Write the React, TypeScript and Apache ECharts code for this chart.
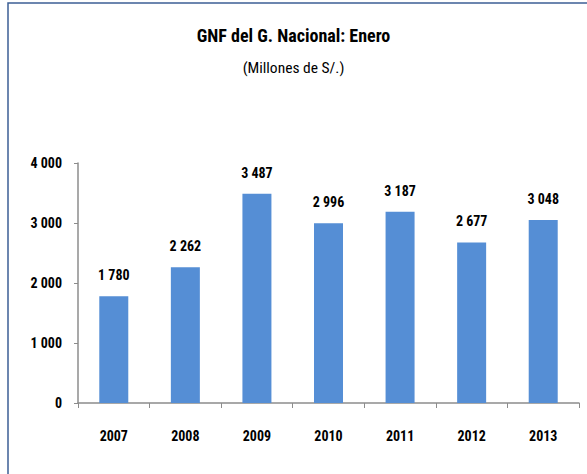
import React, { useEffect, useRef } from "react";
import * as echarts from "echarts";

const years = ["2007", "2008", "2009", "2010", "2011", "2012", "2013"];
const values = [1780, 2262, 3487, 2996, 3187, 2677, 3048];
const titleText = "GNF del G. Nacional: Enero";
const subtitleText = "(Millones de S/.)";

const FONT = "'Liberation Sans Narrow', 'Arial Narrow', 'Roboto Condensed', Roboto, sans-serif";

const fmt = (v: number) => {
  const s = String(Math.round(v));
  return s.replace(/\B(?=(\d{3})+(?!\d))/g, " ");
};

export default function App() {
  const ref = useRef<HTMLDivElement>(null);
  useEffect(() => {
    if (!ref.current) return;
    const chart = echarts.init(ref.current, undefined, { renderer: "svg" });
    chart.setOption({
      animation: false,
      backgroundColor: "#ffffff",
      title: [
        {
          text: titleText,
          left: "center",
          top: 21,
          textStyle: { fontFamily: FONT, fontSize: 18, fontWeight: "bold", color: "#000" },
        },
        {
          text: subtitleText,
          left: "center",
          top: 55,
          textStyle: { fontFamily: FONT, fontSize: 15.5, fontWeight: "normal", color: "#000" },
        },
      ],
      graphic: [
        {
          type: "rect",
          shape: { x: 8, y: 3, width: 700, height: 600 },
          style: { fill: "none", stroke: "#3C5F95", lineWidth: 1.5 },
          silent: true,
        },
      ],
      grid: { left: 78, right: 8, top: 163, bottom: 71, containLabel: false },
      xAxis: {
        type: "category",
        data: years,
        axisLine: { lineStyle: { color: "#8C8C8C", width: 1.5 } },
        axisTick: { show: true, alignWithLabel: false, length: 5, lineStyle: { color: "#8C8C8C" } },
        axisLabel: { fontFamily: FONT, fontSize: 14, fontWeight: "bold", color: "#000", margin: 26 },
      },
      yAxis: {
        type: "value",
        min: 0,
        max: 4000,
        interval: 1000,
        splitLine: { show: false },
        axisLine: { show: true, lineStyle: { color: "#8C8C8C", width: 1.5 } },
        axisTick: { show: true, length: 4, lineStyle: { color: "#8C8C8C" } },
        axisLabel: {
          fontFamily: FONT,
          fontSize: 14,
          fontWeight: "bold",
          color: "#000",
          margin: 16,
          formatter: (v: number) => fmt(v),
        },
      },
      series: [
        {
          type: "bar",
          data: values,
          barWidth: 29,
          itemStyle: { color: "#558ED5" },
          label: {
            show: true,
            position: "top",
            distance: 14,
            fontFamily: FONT,
            fontSize: 14,
            fontWeight: "bold",
            color: "#000",
            formatter: (p: any) => fmt(p.value),
          },
        },
      ],
    });
    return () => chart.dispose();
  }, []);
  return (
    <div
      ref={ref}
      style={{ position: "absolute", left: 0, top: 0, width: 587, height: 474 }}
    />
  );
}
